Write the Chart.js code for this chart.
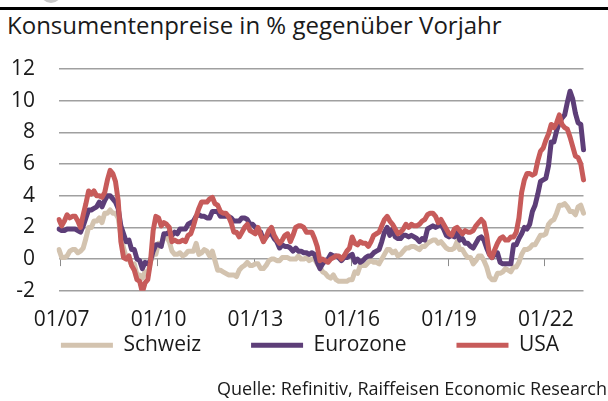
<!DOCTYPE html>
<html>
<head>
<meta charset="utf-8">
<script src="https://cdn.jsdelivr.net/npm/chart.js@4/dist/chart.umd.min.js"></script>
<style>
  body { margin: 0; width: 608px; height: 401px; overflow: hidden; position: relative; background: #fff;
         font-family: "Open Sans", sans-serif; color: #1a1a1a; }
  #logo { position: absolute; left: 40px; top: -20px; width: 22px; height: 23px; border-radius: 50%; background: #c9c9c9; }
  #topline { position: absolute; left: 0; top: 7px; width: 608px; height: 3px; background: #000; }
  #title { position: absolute; left: 7px; top: 8px; font-size: 24px; white-space: nowrap; }
  #wrap { position: absolute; left: 0; top: 29px; width: 608px; height: 361px; }
  #source { position: absolute; right: 1px; top: 376px; font-size: 18px; white-space: nowrap; }
</style>
</head>
<body>
<div id="logo"></div>
<div id="topline"></div>
<div id="title">Konsumentenpreise in % gegenüber Vorjahr</div>
<div id="wrap"><canvas id="chart"></canvas></div>
<div id="source">Quelle: Refinitiv, Raiffeisen Economic Research</div>
<script>
// monthly, 12/06 .. 03/23
var firstYear = 2006, firstMonth = 12, monthCount = 196;

var schweiz = [0.6,
  0.1, 0.1, 0.2, 0.5, 0.6, 0.6, 0.4, 0.5, 0.7, 1.3, 2.0, 2.0,
  2.4, 2.4, 2.6, 2.3, 2.9, 2.9, 3.1, 2.9, 2.9, 2.6, 1.5, 0.7,
  0.1, 0.0, -0.4, -0.3, -1.0, -1.0, -1.2, -0.8, -0.9, -0.2, 0.3, 0.3,
  1.0, 0.9, 1.4, 1.4, 1.1, 0.5, 0.3, 0.3, 0.4, 0.2, 0.3, 0.5,
  0.5, 0.5, 1.0, 0.3, 0.4, 0.6, 0.5, 0.2, 0.5, -0.1, -0.7, -0.7,
  -0.8, -0.9, -1.0, -1.0, -1.0, -1.1, -0.7, -0.5, -0.4, -0.2, -0.4, -0.4,
  -0.3, -0.3, -0.6, -0.6, -0.4, -0.1, 0.0, 0.0, -0.1, -0.1, 0.1, 0.1,
  0.1, 0.0, 0.0, 0.0, 0.2, 0.0, 0.0, 0.1, -0.1, 0.0, 0.0, -0.3,
  -0.5, -0.8, -0.9, -1.1, -1.2, -1.0, -1.3, -1.4, -1.4, -1.4, -1.4, -1.3,
  -1.3, -0.8, -0.9, -0.4, -0.4, -0.4, -0.2, -0.1, -0.2, -0.2, -0.3, 0.0,
  0.3, 0.6, 0.6, 0.4, 0.5, 0.2, 0.3, 0.5, 0.7, 0.7, 0.8, 0.8,
  0.7, 0.6, 0.8, 0.8, 1.0, 1.1, 1.2, 1.2, 1.0, 1.1, 0.9, 0.7,
  0.6, 0.6, 0.7, 1.1, 0.6, 0.6, 0.3, 0.1, 0.1, -0.3, -0.1, 0.2,
  0.2, -0.1, -0.5, -1.1, -1.3, -1.3, -0.9, -0.9, -0.8, -0.6, -0.7, -0.8,
  -0.5, -0.5, -0.2, 0.3, 0.6, 0.6, 0.7, 0.9, 0.9, 1.2, 1.5, 1.5,
  1.6, 2.2, 2.4, 2.5, 2.9, 3.4, 3.4, 3.5, 3.3, 3.0, 3.0, 2.8,
  3.3, 3.4, 2.9];

var eurozone = [1.9,
  1.8, 1.8, 1.9, 1.9, 1.9, 1.9, 1.8, 1.7, 2.1, 2.6, 3.1, 3.1,
  3.2, 3.3, 3.6, 3.3, 3.7, 4.0, 4.0, 3.8, 3.6, 3.2, 2.1, 1.6,
  1.1, 1.2, 0.6, 0.6, 0.0, -0.1, -0.6, -0.2, -0.3, -0.1, 0.5, 0.9,
  0.9, 0.8, 1.6, 1.6, 1.7, 1.5, 1.7, 1.6, 1.9, 1.9, 1.9, 2.2,
  2.3, 2.4, 2.7, 2.8, 2.7, 2.7, 2.6, 2.6, 3.0, 3.0, 3.0, 2.7,
  2.7, 2.7, 2.7, 2.6, 2.4, 2.4, 2.4, 2.6, 2.6, 2.5, 2.2, 2.2,
  2.0, 1.8, 1.7, 1.2, 1.4, 1.6, 1.6, 1.3, 1.1, 0.7, 0.9, 0.8,
  0.8, 0.7, 0.5, 0.7, 0.5, 0.5, 0.4, 0.4, 0.3, 0.4, 0.3, -0.2,
  -0.6, -0.3, -0.1, 0.0, 0.3, 0.2, 0.2, 0.1, -0.1, 0.1, 0.1, 0.2,
  0.3, -0.2, 0.0, -0.2, -0.1, 0.1, 0.2, 0.2, 0.4, 0.5, 0.6, 1.1,
  1.7, 2.0, 1.5, 1.9, 1.4, 1.3, 1.3, 1.5, 1.5, 1.4, 1.5, 1.4,
  1.3, 1.1, 1.3, 1.2, 1.9, 2.0, 2.1, 2.0, 2.1, 2.2, 1.9, 1.5,
  1.4, 1.5, 1.4, 1.7, 1.2, 1.3, 1.0, 1.0, 0.8, 0.7, 1.0, 1.3,
  1.4, 1.2, 0.7, 0.3, 0.1, 0.3, 0.4, -0.2, -0.3, -0.3, -0.3, -0.3,
  0.9, 0.9, 1.3, 1.6, 2.0, 1.9, 2.2, 3.0, 3.4, 4.1, 4.9, 5.0,
  5.1, 5.9, 7.4, 7.4, 8.1, 8.6, 8.9, 9.1, 9.9, 10.6, 10.1, 9.2,
  8.6, 8.5, 6.9];

var usa = [2.5,
  2.1, 2.4, 2.8, 2.6, 2.7, 2.7, 2.4, 2.0, 2.8, 3.5, 4.3, 4.1,
  4.3, 4.0, 4.0, 3.9, 4.2, 5.0, 5.6, 5.4, 4.9, 3.7, 1.1, 0.1,
  0.0, 0.2, -0.4, -0.7, -1.3, -1.4, -2.1, -1.5, -1.3, -0.2, 1.8, 2.7,
  2.6, 2.1, 2.3, 2.2, 2.0, 1.1, 1.2, 1.1, 1.1, 1.2, 1.1, 1.5,
  1.6, 2.1, 2.7, 3.2, 3.6, 3.6, 3.6, 3.8, 3.9, 3.5, 3.4, 3.0,
  2.9, 2.9, 2.7, 2.3, 1.7, 1.7, 1.4, 1.7, 2.0, 2.2, 1.8, 1.7,
  1.6, 2.0, 1.5, 1.1, 1.4, 1.8, 2.0, 1.5, 1.2, 1.0, 1.2, 1.5,
  1.6, 1.1, 1.5, 2.0, 2.1, 2.1, 2.0, 1.7, 1.7, 1.7, 1.3, 0.8,
  -0.1, 0.0, -0.1, -0.2, 0.0, 0.1, 0.2, 0.2, 0.0, 0.2, 0.5, 0.7,
  1.4, 1.0, 0.9, 1.1, 1.0, 1.0, 0.8, 1.1, 1.5, 1.6, 1.7, 2.1,
  2.5, 2.7, 2.4, 2.2, 1.9, 1.6, 1.7, 1.9, 2.2, 2.0, 2.2, 2.1,
  2.1, 2.2, 2.4, 2.5, 2.8, 2.9, 2.9, 2.7, 2.3, 2.5, 2.2, 1.9,
  1.6, 1.5, 1.9, 2.0, 1.8, 1.6, 1.8, 1.7, 1.7, 1.8, 2.1, 2.3,
  2.5, 2.3, 1.5, 0.3, 0.1, 0.6, 1.0, 1.3, 1.4, 1.2, 1.2, 1.4,
  1.4, 1.7, 2.6, 4.2, 5.0, 5.4, 5.4, 5.3, 5.4, 6.2, 6.8, 7.0,
  7.5, 7.9, 8.5, 8.3, 8.6, 9.1, 8.5, 8.3, 8.2, 7.7, 7.1, 6.5,
  6.4, 6.0, 5.0];

var seriesNames = ['Schweiz', 'Eurozone', 'USA'];
var seriesColors = ['#d3c3af', '#5d3e78', '#c75b5a'];

var labels = [];
for (var i = 0; i < monthCount; i++) {
  var m = (firstMonth - 1 + i) % 12 + 1;
  var y = firstYear + Math.floor((firstMonth - 1 + i) / 12);
  labels.push((m < 10 ? '0' : '') + m + '/' + String(y).slice(2));
}

// only 01/07, 01/10, 01/13 ... are labelled
function isShown(lbl) {
  return lbl.slice(0, 2) === '01' && parseInt(lbl.slice(3), 10) % 3 === 1;
}

var fontFamily = '"Open Sans", sans-serif';

// small tick marks on the zero line, between Dec and Jan
var zeroTicks = {
  id: 'zeroTicks',
  beforeDatasetsDraw: function(chart) {
    var ctx = chart.ctx, xs = chart.scales.x, ys = chart.scales.y;
    var y0 = ys.getPixelForValue(0);
    ctx.save();
    ctx.strokeStyle = '#8c8c8c';
    ctx.lineWidth = 1;
    labels.forEach(function(l, i) {
      if (!isShown(l)) return;
      var x = Math.round(xs.getPixelForValue(i - 0.5)) + 0.5;
      ctx.beginPath();
      ctx.moveTo(x, y0);
      ctx.lineTo(x, y0 + 7);
      ctx.stroke();
    });
    ctx.restore();
  }
};

// move the legend row up under the axis labels (top only, so the clip box grows)
var legendShift = {
  id: 'legendShift',
  afterLayout: function(chart) {
    var lg = chart.legend;
    lg.top = chart.chartArea.bottom + 44 - lg.options.labels.padding;
    lg.left += 6;
    lg.right += 6;
  }
};

var datasets = seriesNames.map(function(name, i) {
  return {
    label: name,
    data: [schweiz, eurozone, usa][i],
    borderColor: seriesColors[i],
    backgroundColor: seriesColors[i],
    borderWidth: 5,
    pointRadius: 0,
    tension: 0,
    borderJoinStyle: 'round',
    borderCapStyle: 'round',
    order: 3 - i
  };
});

var chart = new Chart(document.getElementById('chart').getContext('2d'), {
  type: 'line',
  data: { labels: labels, datasets: datasets },
  options: {
    animation: false,
    responsive: true,
    maintainAspectRatio: false,
    layout: { padding: { top: 40, right: 0, left: 0, bottom: 0 } },
    scales: {
      x: {
        offset: false,
        grid: { display: false, drawTicks: false },
        border: { display: false },
        ticks: {
          autoSkip: false,
          maxRotation: 0,
          padding: 17,
          color: '#1a1a1a',
          font: { family: fontFamily, size: 21 },
          callback: function(v, i) { return isShown(labels[i]) ? labels[i] : ''; }
        }
      },
      y: {
        min: -2,
        max: 12,
        afterFit: function(s) { s.width = 59; },
        grid: { color: '#a0a0a0', lineWidth: 1.5, drawTicks: false },
        border: { display: false },
        ticks: {
          stepSize: 2,
          padding: 24,
          color: '#1a1a1a',
          font: { family: fontFamily, size: 21 }
        }
      },
      // empty right margin, keeps the legend full width
      yRight: {
        position: 'right',
        afterFit: function(s) { s.width = 24.5; },
        grid: { display: false, drawTicks: false },
        border: { display: false },
        ticks: { display: false }
      }
    },
    plugins: {
      tooltip: { enabled: false },
      legend: {
        position: 'bottom',
        maxHeight: 40,
        labels: {
          boxWidth: 52,
          boxHeight: 5,
          useBorderRadius: true,
          borderRadius: 2.5,
          padding: 50,
          color: '#1a1a1a',
          font: { family: fontFamily, size: 21 },
          generateLabels: function(c) {
            return c.data.datasets.map(function(d, i) {
              return { text: d.label, fillStyle: d.borderColor, strokeStyle: d.borderColor,
                       lineWidth: 0, hidden: false, datasetIndex: i, fontColor: '#1a1a1a' };
            });
          }
        }
      }
    }
  },
  plugins: [zeroTicks, legendShift]
});
</script>
</body>
</html>
